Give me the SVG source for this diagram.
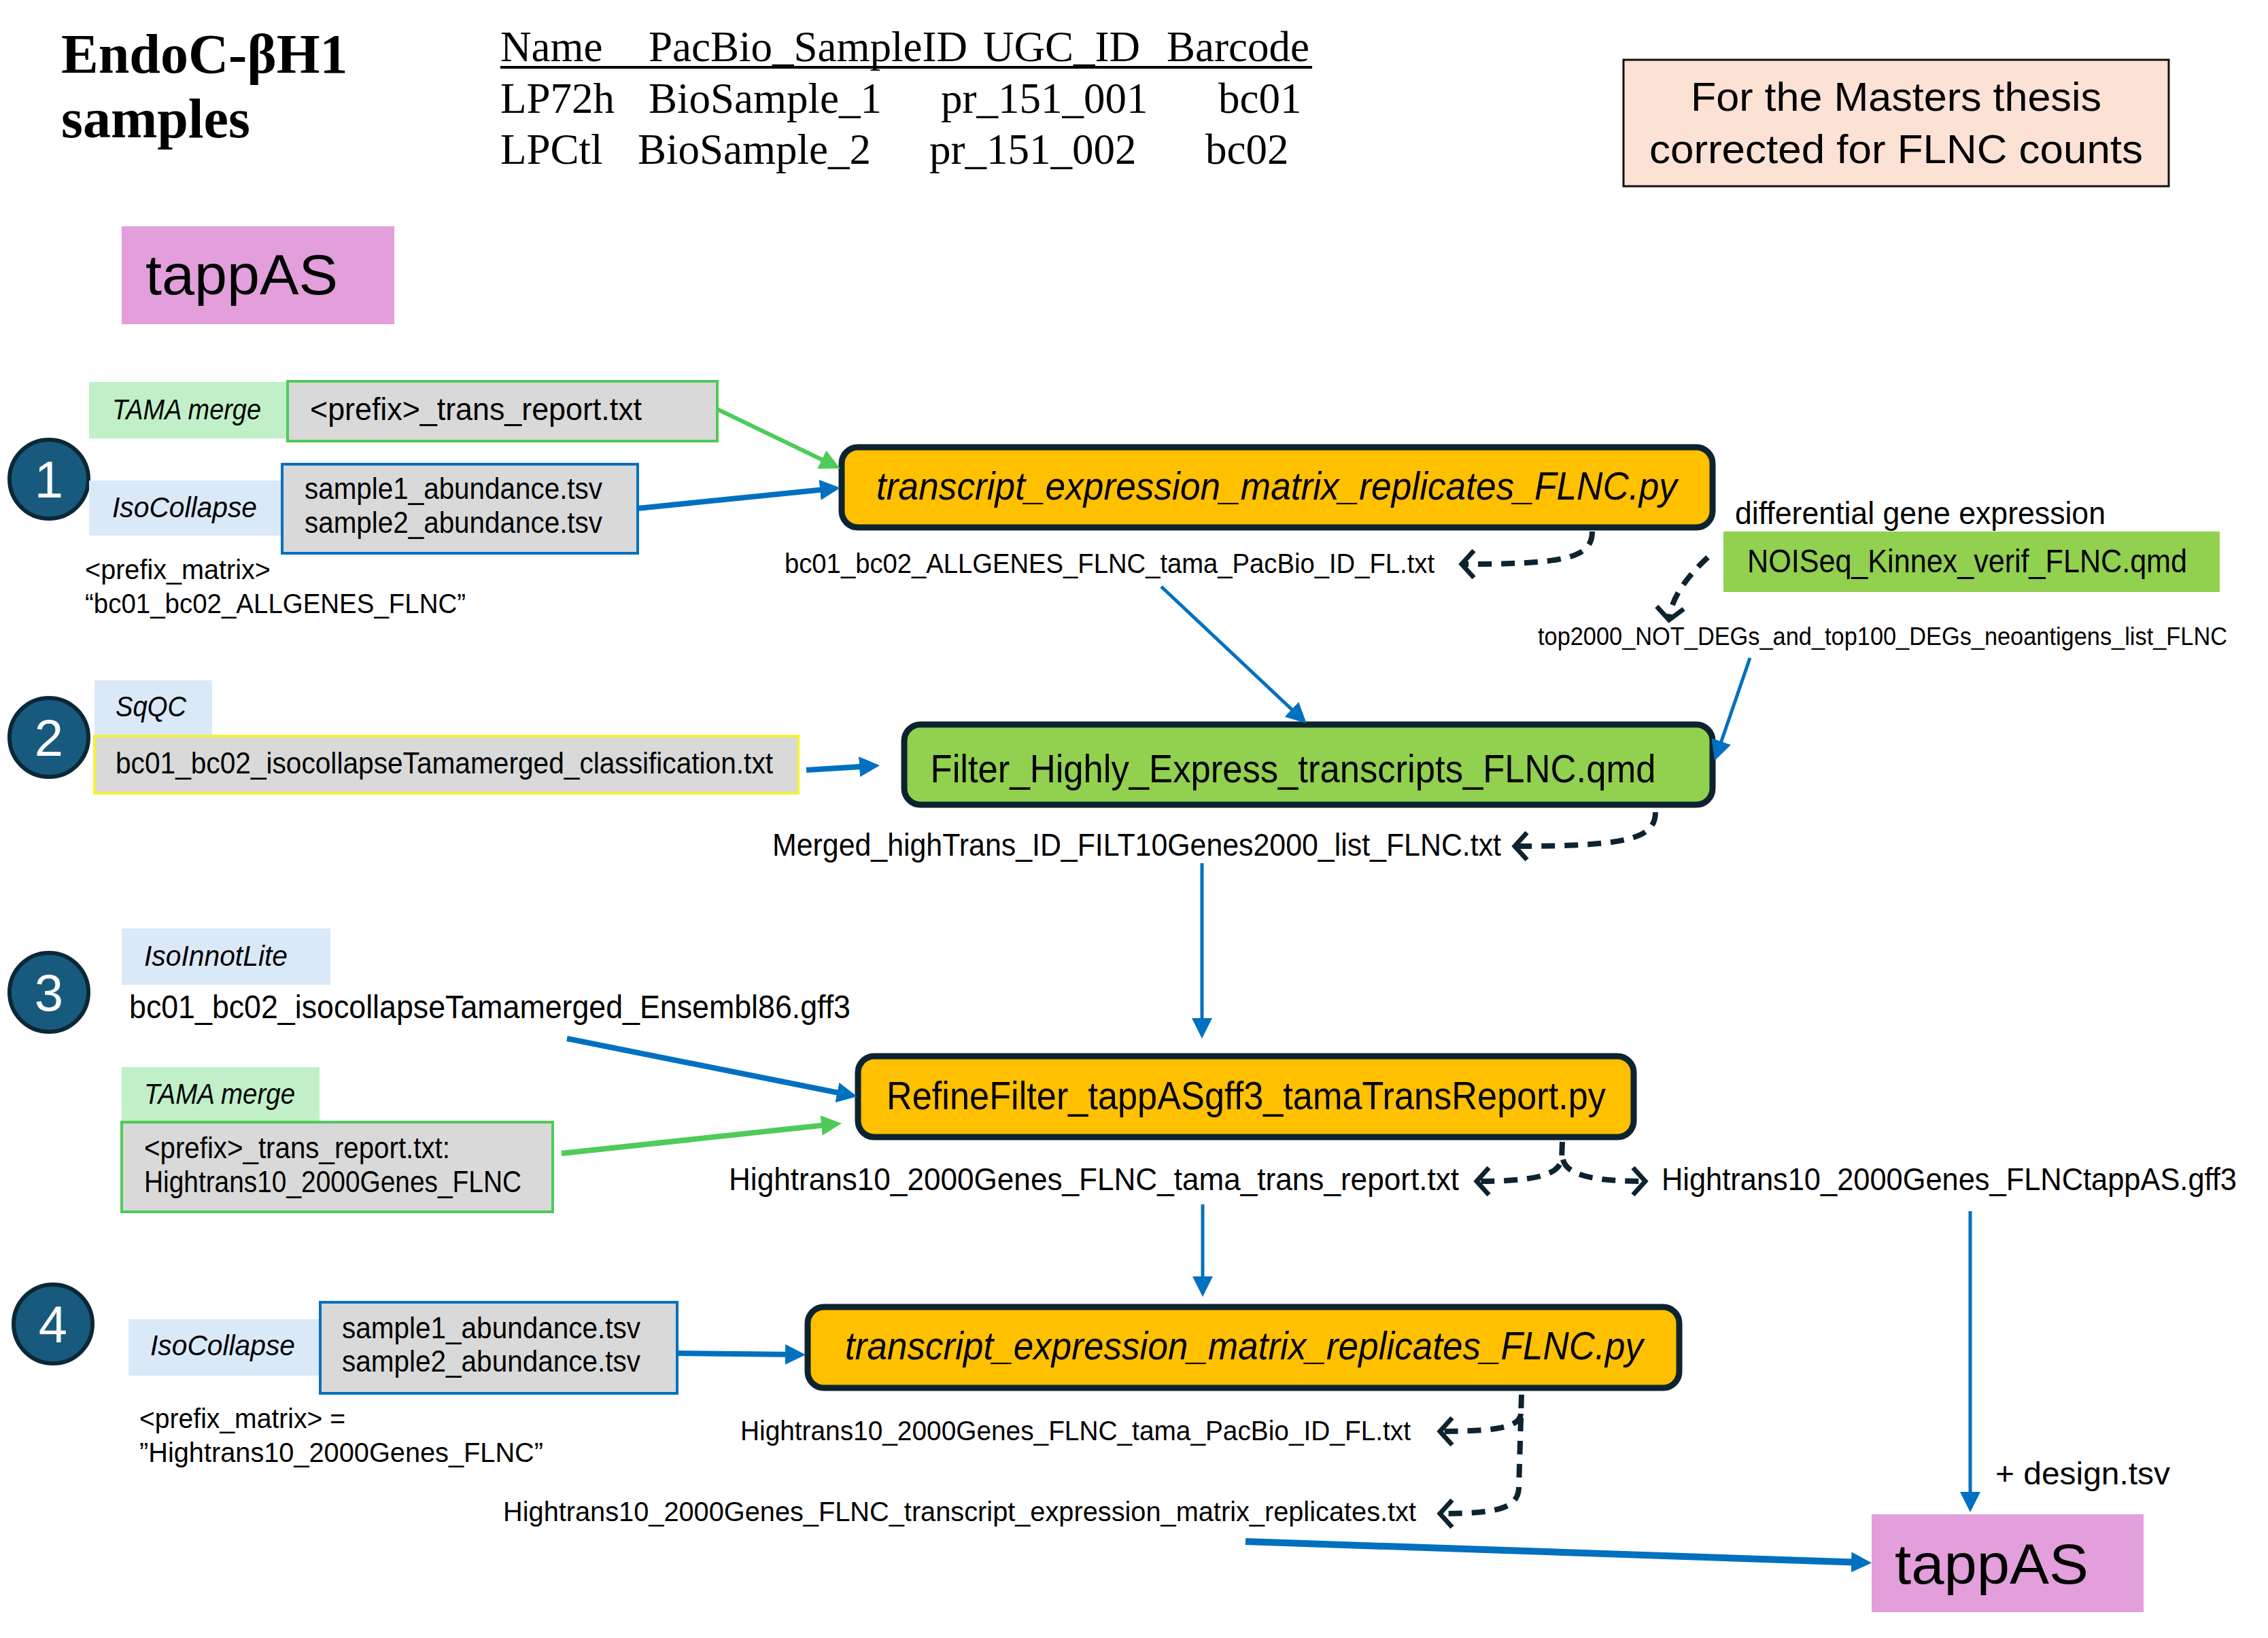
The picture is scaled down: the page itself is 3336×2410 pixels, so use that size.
<svg xmlns="http://www.w3.org/2000/svg" width="3336" height="2410" viewBox="0 0 3336 2410">
<style>
.t{font-family:"Liberation Sans",Arial,sans-serif;fill:#000}
.i{font-style:italic}
.s{font-family:"Liberation Serif","Times New Roman",serif;fill:#000}
.num{font-family:"Liberation Sans",Arial,sans-serif;fill:#fff;font-size:76px;text-anchor:middle}
.circ{fill:#185a7d;stroke:#0c2736;stroke-width:6}
.orange{fill:#ffc000;stroke:#0d2330;stroke-width:9}
.gbox{fill:#92d050;stroke:#0d2330;stroke-width:9}
.grey{fill:#d9d9d9}
.lg{fill:#c1f0c8}
.lb{fill:#dae9f7}
.blue{stroke:#0070c0;fill:none}
.green{stroke:#4ecb5a;fill:none}
.dash{stroke:#0d2330;fill:none;stroke-width:8;stroke-dasharray:20 14}
</style>
<defs>
<marker id="ab" viewBox="0 0 10 10" markerUnits="userSpaceOnUse" markerWidth="30" markerHeight="30" refX="6" refY="5" orient="auto"><path d="M0,0 L10,5 L0,10 z" fill="#0070c0"/></marker>
<marker id="ag" viewBox="0 0 10 10" markerUnits="userSpaceOnUse" markerWidth="30" markerHeight="30" refX="6" refY="5" orient="auto"><path d="M0,0 L10,5 L0,10 z" fill="#4ecb5a"/></marker>
<marker id="ac" viewBox="0 0 26 46" markerUnits="userSpaceOnUse" markerWidth="26" markerHeight="46" refX="21" refY="23" orient="auto"><path d="M3,3 L21,23 L3,43" fill="none" stroke="#0d2330" stroke-width="7"/></marker>
</defs>
<rect width="3336" height="2410" fill="#fff"/>

<g id="title">
<text class="s" x="90" y="107" font-size="82" font-weight="bold">EndoC-βH1</text>
<text class="s" x="90" y="202" font-size="82" font-weight="bold">samples</text>
</g>

<g id="sample-table" class="s" font-size="63">
<text x="736" y="90">Name</text>
<text x="954" y="90">PacBio_SampleID</text>
<text x="1446" y="90">UGC_ID</text>
<text x="1716" y="90">Barcode</text>
<line x1="736" y1="99" x2="1930" y2="99" stroke="#000" stroke-width="4"/>
<text x="736" y="166">LP72h</text>
<text x="954" y="166">BioSample_1</text>
<text x="1384" y="166">pr_151_001</text>
<text x="1792" y="166">bc01</text>
<text x="736" y="241">LPCtl</text>
<text x="938" y="241">BioSample_2</text>
<text x="1367" y="241">pr_151_002</text>
<text x="1773" y="241">bc02</text>
</g>

<g id="note">
<rect x="2388" y="88" width="802" height="186" fill="#fbe2d5" stroke="#111" stroke-width="3"/>
<text class="t" x="2789" y="163" font-size="60" text-anchor="middle" textLength="604" lengthAdjust="spacingAndGlyphs">For the Masters thesis</text>
<text class="t" x="2789" y="240" font-size="60" text-anchor="middle" textLength="726" lengthAdjust="spacingAndGlyphs">corrected for FLNC counts</text>
</g>

<g id="tappas-top">
<rect x="179" y="333" width="401" height="144" fill="#e29fdb"/>
<text class="t" x="214" y="433" font-size="84" textLength="283" lengthAdjust="spacingAndGlyphs">tappAS</text>
</g>

<g id="step1">
<circle class="circ" cx="72" cy="705" r="58"/>
<text class="num" x="72" y="732">1</text>
</g>
<g id="step2">
<circle class="circ" cx="72" cy="1085" r="58"/>
<text class="num" x="72" y="1112">2</text>
</g>
<g id="step3">
<circle class="circ" cx="72" cy="1460" r="58"/>
<text class="num" x="72" y="1487">3</text>
</g>
<g id="step4">
<circle class="circ" cx="78" cy="1948" r="58"/>
<text class="num" x="78" y="1975">4</text>
</g>

<g id="tama1">
<rect class="lg" x="131" y="562" width="292" height="83"/>
<text class="t i" x="165" y="617" font-size="42" textLength="219" lengthAdjust="spacingAndGlyphs">TAMA merge</text>
<rect class="grey" x="423" y="561" width="632" height="88" stroke="#4ecb5a" stroke-width="4"/>
<text class="t" x="456" y="618" font-size="46" textLength="488" lengthAdjust="spacingAndGlyphs">&lt;prefix&gt;_trans_report.txt</text>
</g>

<g id="isocollapse1">
<rect class="lb" x="131" y="707" width="285" height="81"/>
<text class="t i" x="165" y="761" font-size="42" textLength="213" lengthAdjust="spacingAndGlyphs">IsoCollapse</text>
<rect class="grey" x="415" y="683" width="523" height="131" stroke="#0070c0" stroke-width="4"/>
<text class="t" x="448" y="734" font-size="44" textLength="438" lengthAdjust="spacingAndGlyphs">sample1_abundance.tsv</text>
<text class="t" x="448" y="784" font-size="44" textLength="438" lengthAdjust="spacingAndGlyphs">sample2_abundance.tsv</text>
<text class="t" x="125" y="852" font-size="40" textLength="273" lengthAdjust="spacingAndGlyphs">&lt;prefix_matrix&gt;</text>
<text class="t" x="125" y="902" font-size="40" textLength="560" lengthAdjust="spacingAndGlyphs">“bc01_bc02_ALLGENES_FLNC”</text>
</g>

<g id="tem1">
<rect class="orange" x="1238" y="658" width="1281" height="118" rx="24"/>
<text class="t i" x="1878" y="735" font-size="58" text-anchor="middle" textLength="1178" lengthAdjust="spacingAndGlyphs">transcript_expression_matrix_replicates_FLNC.py</text>
<text class="t" x="2110" y="843" font-size="40" text-anchor="end" textLength="956" lengthAdjust="spacingAndGlyphs">bc01_bc02_ALLGENES_FLNC_tama_PacBio_ID_FL.txt</text>
</g>

<g id="noiseq">
<text class="t" x="2552" y="771" font-size="46" textLength="545" lengthAdjust="spacingAndGlyphs">differential gene expression</text>
<rect x="2535" y="782" width="730" height="89" fill="#92d050"/>
<text class="t" x="2570" y="842" font-size="48" textLength="647" lengthAdjust="spacingAndGlyphs">NOISeq_Kinnex_verif_FLNC.qmd</text>
<text class="t" x="2262" y="949" font-size="36" textLength="1014" lengthAdjust="spacingAndGlyphs">top2000_NOT_DEGs_and_top100_DEGs_neoantigens_list_FLNC</text>
</g>

<g id="sqqc">
<rect class="lb" x="139" y="1001" width="173" height="82"/>
<text class="t i" x="170" y="1054" font-size="42" textLength="104" lengthAdjust="spacingAndGlyphs">SqQC</text>
<rect class="grey" x="139" y="1083" width="1035" height="84" stroke="#f2f23a" stroke-width="4"/>
<text class="t" x="170" y="1138" font-size="44" textLength="967" lengthAdjust="spacingAndGlyphs">bc01_bc02_isocollapseTamamerged_classification.txt</text>
</g>

<g id="filter">
<rect class="gbox" x="1330" y="1066" width="1189" height="118" rx="24"/>
<text class="t" x="1902" y="1151" font-size="58" text-anchor="middle" textLength="1067" lengthAdjust="spacingAndGlyphs">Filter_Highly_Express_transcripts_FLNC.qmd</text>
<text class="t" x="2208" y="1259" font-size="46" text-anchor="end" textLength="1072" lengthAdjust="spacingAndGlyphs">Merged_highTrans_ID_FILT10Genes2000_list_FLNC.txt</text>
</g>

<g id="isoinnot">
<rect class="lb" x="179" y="1366" width="307" height="83"/>
<text class="t i" x="212" y="1421" font-size="42" textLength="211" lengthAdjust="spacingAndGlyphs">IsoInnotLite</text>
<text class="t" x="190" y="1498" font-size="48" textLength="1061" lengthAdjust="spacingAndGlyphs">bc01_bc02_isocollapseTamamerged_Ensembl86.gff3</text>
</g>

<g id="tama2">
<rect class="lg" x="179" y="1570" width="291" height="82"/>
<text class="t i" x="212" y="1624" font-size="42" textLength="222" lengthAdjust="spacingAndGlyphs">TAMA merge</text>
<rect class="grey" x="179" y="1651" width="634" height="132" stroke="#4ecb5a" stroke-width="4"/>
<text class="t" x="212" y="1704" font-size="44" textLength="450" lengthAdjust="spacingAndGlyphs">&lt;prefix&gt;_trans_report.txt:</text>
<text class="t" x="212" y="1754" font-size="44" textLength="555" lengthAdjust="spacingAndGlyphs">Hightrans10_2000Genes_FLNC</text>
</g>

<g id="refine">
<rect class="orange" x="1262" y="1554" width="1141" height="119" rx="24"/>
<text class="t" x="1833" y="1632" font-size="58" text-anchor="middle" textLength="1058" lengthAdjust="spacingAndGlyphs">RefineFilter_tappASgff3_tamaTransReport.py</text>
<text class="t" x="2146" y="1751" font-size="46" text-anchor="end" textLength="1074" lengthAdjust="spacingAndGlyphs">Hightrans10_2000Genes_FLNC_tama_trans_report.txt</text>
<text class="t" x="2444" y="1751" font-size="46" textLength="846" lengthAdjust="spacingAndGlyphs">Hightrans10_2000Genes_FLNCtappAS.gff3</text>
</g>

<g id="isocollapse2">
<rect class="lb" x="189" y="1941" width="283" height="83"/>
<text class="t i" x="221" y="1994" font-size="42" textLength="213" lengthAdjust="spacingAndGlyphs">IsoCollapse</text>
<rect class="grey" x="471" y="1916" width="525" height="134" stroke="#0070c0" stroke-width="4"/>
<text class="t" x="503" y="1969" font-size="44" textLength="439" lengthAdjust="spacingAndGlyphs">sample1_abundance.tsv</text>
<text class="t" x="503" y="2018" font-size="44" textLength="439" lengthAdjust="spacingAndGlyphs">sample2_abundance.tsv</text>
<text class="t" x="205" y="2101" font-size="40" textLength="303" lengthAdjust="spacingAndGlyphs">&lt;prefix_matrix&gt; =</text>
<text class="t" x="205" y="2151" font-size="40" textLength="594" lengthAdjust="spacingAndGlyphs">”Hightrans10_2000Genes_FLNC”</text>
</g>

<g id="tem2">
<rect class="orange" x="1188" y="1923" width="1282" height="119" rx="24"/>
<text class="t i" x="1830" y="2000" font-size="58" text-anchor="middle" textLength="1174" lengthAdjust="spacingAndGlyphs">transcript_expression_matrix_replicates_FLNC.py</text>
<text class="t" x="2075" y="2119" font-size="40" text-anchor="end" textLength="986" lengthAdjust="spacingAndGlyphs">Hightrans10_2000Genes_FLNC_tama_PacBio_ID_FL.txt</text>
<text class="t" x="2083" y="2238" font-size="40" text-anchor="end" textLength="1343" lengthAdjust="spacingAndGlyphs">Hightrans10_2000Genes_FLNC_transcript_expression_matrix_replicates.txt</text>
</g>

<g id="tappas-bottom">
<text class="t" x="2935" y="2184" font-size="46" textLength="257" lengthAdjust="spacingAndGlyphs">+ design.tsv</text>
<rect x="2753" y="2228" width="400" height="144" fill="#e29fdb"/>
<text class="t" x="2787" y="2330" font-size="84" textLength="285" lengthAdjust="spacingAndGlyphs">tappAS</text>
</g>

<g id="connectors">
<line class="green" stroke-width="6" x1="1055" y1="602" x2="1225" y2="684" marker-end="url(#ag)"/>
<line class="blue" stroke-width="8" x1="938" y1="748" x2="1224" y2="719" marker-end="url(#ab)"/>
<path class="dash" d="M2342,782 C2342,822 2300,830 2150,830" marker-end="url(#ac)"/>
<path class="dash" d="M2512,820 C2480,850 2458,880 2455,912" marker-end="url(#ac)"/>
<line class="blue" stroke-width="5" x1="1708" y1="863" x2="1913" y2="1056" marker-end="url(#ab)"/>
<line class="blue" stroke-width="5" x1="2574" y1="968" x2="2526" y2="1108" marker-end="url(#ab)"/>
<line class="blue" stroke-width="8" x1="1186" y1="1133" x2="1282" y2="1127" marker-end="url(#ab)"/>
<path class="dash" d="M2435,1195 C2435,1235 2390,1245 2228,1245" marker-end="url(#ac)"/>
<line class="blue" stroke-width="5" x1="1768" y1="1270" x2="1768" y2="1516" marker-end="url(#ab)"/>
<line class="blue" stroke-width="8" x1="834" y1="1528" x2="1249" y2="1611" marker-end="url(#ab)"/>
<line class="green" stroke-width="8" x1="826" y1="1697" x2="1226" y2="1654" marker-end="url(#ag)"/>
<path class="dash" d="M2298,1680 L2297,1706 C2292,1730 2255,1738 2172,1738" marker-end="url(#ac)"/>
<path class="dash" d="M2299,1706 C2305,1730 2345,1738 2420,1738" marker-end="url(#ac)"/>
<line class="blue" stroke-width="5" x1="1769" y1="1772" x2="1769" y2="1896" marker-end="url(#ab)"/>
<line class="blue" stroke-width="5" x1="2898" y1="1782" x2="2898" y2="2213" marker-end="url(#ab)"/>
<line class="blue" stroke-width="8" x1="996" y1="1991" x2="1173" y2="1993" marker-end="url(#ab)"/>
<path class="dash" d="M2238,2052 L2234,2190 C2232,2220 2200,2227 2118,2227" marker-end="url(#ac)"/>
<path class="dash" d="M2237,2080 C2236,2100 2200,2106 2118,2106" marker-end="url(#ac)"/>
<line class="blue" stroke-width="10" x1="1832" y1="2268" x2="2741" y2="2299" marker-end="url(#ab)"/>
</g>
</svg>
